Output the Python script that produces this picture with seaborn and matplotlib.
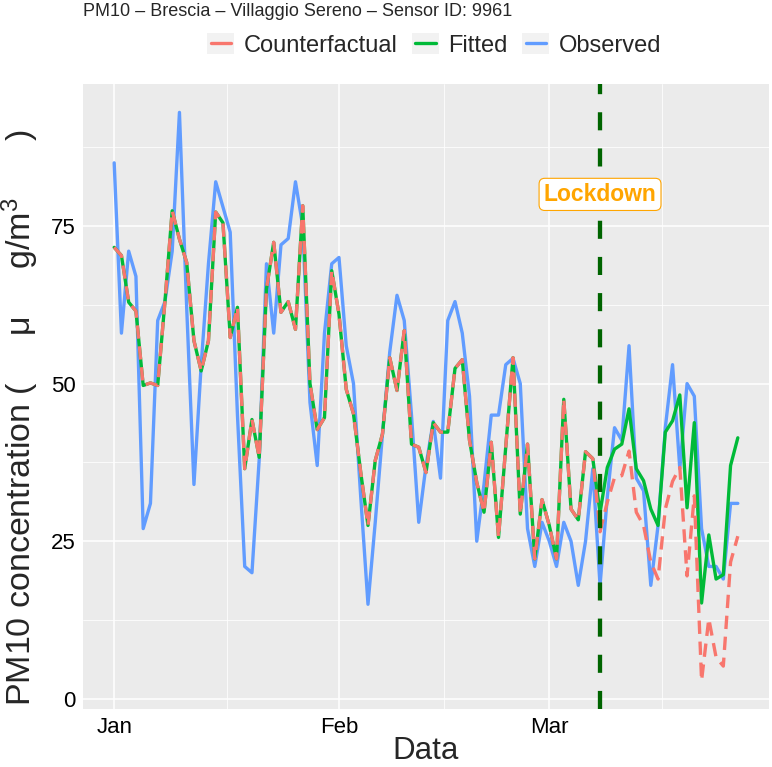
import numpy as np
import pandas as pd
import matplotlib
matplotlib.use("Agg")
import matplotlib.pyplot as plt
import seaborn as sns
from matplotlib.lines import Line2D
from matplotlib.patches import Rectangle
from matplotlib.legend_handler import HandlerLine2D

# ----------------------------
# DATA (daily PM10, 1 Jan - 27 Mar 2020)
# ----------------------------

start_date = "2020-01-01"
lockdown_date = "2020-03-08"

observed = [85, 58, 71, 67, 27, 31, 60, 63, 71, 93,
            62, 34, 53, 69, 82, 78, 74, 45, 21, 20,
            38, 69, 58, 72, 73, 82, 75, 47, 37, 58,
            69, 70, 56, 50, 32, 15, 28, 42, 55, 64,
            60, 45, 28, 37, 44, 35, 60, 63, 58, 48,
            25, 34, 45, 45, 53, 54, 50, 27, 21, 28,
            25, 21, 28, 25, 18, 25, 36.5, 18, 32, 43,
            41, 56, 35, 33, 18, 27.5, 43, 53, 36.5, 50,
            48, 27, 21, 21, 19, 31, 31]

counterfactual = [71.6, 70.3, 62.9, 61.5, 49.7, 50.1, 49.7, 63, 77.4, 72.9,
                  69.2, 56.8, 52, 56.8, 77.2, 75.5, 57.3, 62.1, 36.5, 44.3,
                  38.3, 65, 72.4, 61.3, 63, 58.6, 78.2, 50, 42.7, 44.6,
                  67.9, 61, 49.1, 45.2, 35.9, 27.5, 37.8, 42, 54.1, 48.9,
                  58.4, 40.4, 39.9, 35.9, 43.8, 42.3, 42.3, 52.4, 53.8, 41,
                  34.3, 29.6, 40.7, 25.6, 40, 54.1, 29.3, 40.4, 22.2, 31.6,
                  27.5, 22.2, 47.5, 30.1, 28.4, 39.2, 38.1, 26.5, 31.2, 35.1,
                  35.4, 39.3, 29.6, 27.5, 21.7, 19, 30.1, 34.5, 36.7, 19.5,
                  32.2, 2.9, 12.7, 6.6, 5.2, 21.7, 25.8]

fitted = [71.6, 70.3, 62.9, 61.5, 49.7, 50.1, 49.7, 63, 77.4, 72.9,
          69.2, 56.8, 52, 56.8, 77.2, 75.5, 57.3, 62.1, 36.5, 44.3,
          38.3, 65, 72.4, 61.3, 63, 58.6, 78.2, 50, 42.7, 44.6,
          67.9, 61, 49.1, 45.2, 35.9, 27.5, 37.8, 42, 54.1, 48.9,
          58.4, 40.4, 39.9, 35.9, 43.8, 42.3, 42.3, 52.4, 53.8, 41,
          34.3, 29.6, 40.7, 25.6, 40, 54.1, 29.3, 40.4, 22.2, 31.6,
          27.5, 22.2, 47.5, 30.1, 28.4, 39.2, 38.1, 29.5, 36.7, 39.6,
          40.4, 46, 36.5, 34.6, 30.1, 27.5, 42.3, 44.1, 48.2, 30.3,
          43.8, 15.2, 26, 19, 19.7, 37, 41.4]

series_names = ["Counterfactual", "Fitted", "Observed"]
series_colors = ["#F8766D", "#00BA38", "#619CFF"]

y_ticks = [0, 25, 50, 75]
x_tick_dates = ["2020-01-01", "2020-02-01", "2020-03-01"]
x_tick_labels = ["Jan", "Feb", "Mar"]

df = pd.DataFrame({
    "Data": pd.date_range(start_date, periods=len(observed), freq="D"),
    "Observed": observed,
    "Fitted": fitted,
    "Counterfactual": counterfactual,
})

# ----------------------------
# STYLE
# ----------------------------

sns.set_theme(style="darkgrid", rc={
    "axes.facecolor": "#EBEBEB",
    "grid.color": "white",
    "axes.edgecolor": "#EBEBEB",
})
plt.rcParams["font.family"] = ["Liberation Sans", "DejaVu Sans"]
plt.rcParams["mathtext.fontset"] = "custom"
plt.rcParams["mathtext.rm"] = "Liberation Sans"
plt.rcParams["mathtext.it"] = "Liberation Sans"


class KeyBox(HandlerLine2D):
    # ggplot-like legend key: grey square behind a short line
    def create_artists(self, legend, orig_handle, xdescent, ydescent,
                       width, height, fontsize, trans):
        arts = super().create_artists(legend, orig_handle, xdescent, ydescent,
                                      width, height, fontsize, trans)
        pad = 0.15 * fontsize
        bg = Rectangle((-xdescent - pad, -ydescent), width + 2 * pad, height,
                       facecolor="#F2F2F2", edgecolor="none", transform=trans)
        return [bg] + arts


# ----------------------------
# PLOT
# ----------------------------

W, H = 772, 767
fig = plt.figure(figsize=(W / 100, H / 100), dpi=100)
ax = fig.add_axes([83 / W, (H - 709) / H, (769 - 83) / W, (709 - 84) / H])

sns.lineplot(data=df, x="Data", y="Observed", color=series_colors[2],
             linewidth=2.4, ax=ax)
sns.lineplot(data=df, x="Data", y="Fitted", color=series_colors[1],
             linewidth=2.4, ax=ax)
sns.lineplot(data=df, x="Data", y="Counterfactual", color=series_colors[0],
             linewidth=2.4, linestyle=(0, (4.0, 2.3)), ax=ax)

lock = pd.Timestamp(lockdown_date)
ax.axvline(lock, color="#006400", linewidth=3.1, linestyle=(0, (4.2, 4.2)), zorder=4)
ax.text(lock, 80, "Lockdown", ha="center", va="center", color="#FFA500",
        fontsize=16.5, fontweight="bold", zorder=6,
        bbox=dict(boxstyle="round,pad=0.2,rounding_size=0.25",
                  facecolor="white", edgecolor="#FFA500", linewidth=0.8))

# axes limits with ggplot-style 5% expansion
span = df["Data"].iloc[-1] - df["Data"].iloc[0]
ax.set_xlim(df["Data"].iloc[0] - 0.05 * span, df["Data"].iloc[-1] + 0.05 * span)
all_vals = np.concatenate([observed, fitted, counterfactual])
rng = all_vals.max() - all_vals.min()
ax.set_ylim(all_vals.min() - 0.05 * rng, all_vals.max() + 0.05 * rng)

major_x = pd.to_datetime(x_tick_dates)
minor_x = [pd.Timestamp("2020-01-16 12:00"), pd.Timestamp("2020-02-15 12:00"),
           pd.Timestamp("2020-03-16 12:00")]
ax.set_xticks(major_x)
ax.set_xticklabels(x_tick_labels)
ax.set_xticks(minor_x, minor=True)
ax.set_yticks(y_ticks)
ax.set_yticks([12.5, 37.5, 62.5, 87.5], minor=True)
ax.grid(which="major", color="white", linewidth=1.1)
ax.grid(which="minor", color="white", linewidth=0.55)
ax.tick_params(which="major", length=3.5, width=0.8, color="#333333",
               labelsize=16, labelcolor="black", pad=2)
ax.tick_params(which="minor", length=0)
for s in ax.spines.values():
    s.set_visible(False)

ax.set_xlabel("")
ax.set_ylabel("")
fig.text(426 / W, 1 - 751 / H, "Data", ha="center", va="center", fontsize=22.5)
fig.text(20 / W, 1 - 418 / H,
         r"PM10 concentration (     $\mu$     g/m$^{3}$      )",
         rotation=90, ha="center", va="center", fontsize=24.5)
fig.text(83 / W, 1 - 12 / H, "PM10 – Brescia – Villaggio Sereno – Sensor ID: 9961",
         ha="left", va="center", fontsize=13)

handles = [Line2D([], [], color=c, linewidth=2.4) for c in series_colors]
fig.legend(handles, series_names, loc="center", bbox_to_anchor=(436 / W, 1 - 45 / H),
           ncol=3, frameon=False, fontsize=17, handlelength=0.85, handleheight=1.0,
           handletextpad=0.55, columnspacing=0.75,
           handler_map={Line2D: KeyBox()})

fig.savefig("out.png", dpi=100)
